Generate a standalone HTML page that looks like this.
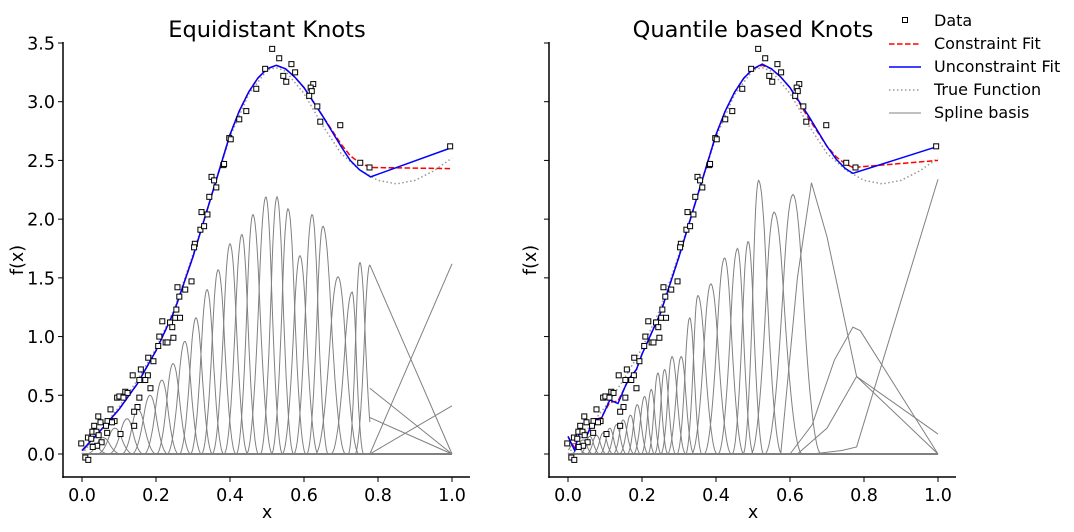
<!DOCTYPE html>
<html><head><meta charset="utf-8"><style>
body{margin:0;background:#fff}
svg text{font-family:"DejaVu Sans","Liberation Sans",sans-serif;fill:#000}
</style></head><body>
<svg id="c" width="1074" height="527" xmlns="http://www.w3.org/2000/svg"></svg>
<script>
const dataX=[0.514,0.533,0.495,0.566,0.576,0.544,0.552,0.625,0.618,0.621,0.614,0.636,0.644,0.698,0.471,0.444,0.425,0.398,0.402,0.382,0.384,0.752,0.777,0.995,0.350,0.357,0.363,0.344,0.323,0.339,0.320,0.330,0.305,0.303,0.296,0.279,0.258,0.263,0.255,0.252,0.265,0.217,0.238,0.244,0.209,0.247,0.206,0.226,0.231,0.179,0.193,0.137,0.159,0.178,0.155,0.171,0.185,0.117,0.123,0.095,0.101,0.112,0.155,0.077,0.150,0.044,0.141,0.050,0.069,0.088,0.081,0.033,0.065,0.141,0.028,0.039,0.068,0.104,0.016,0.025,0.045,0.053,-0.002,0.041,0.029,0.009,0.017];
const dataY=[3.45,3.37,3.28,3.32,3.25,3.22,3.17,3.15,3.12,3.09,3.05,2.96,2.83,2.80,3.11,2.92,2.85,2.69,2.68,2.46,2.47,2.48,2.44,2.62,2.36,2.33,2.27,2.19,2.06,2.04,1.91,1.94,1.79,1.76,1.47,1.40,1.42,1.34,1.23,1.16,1.16,1.13,1.12,1.08,1.00,0.99,0.92,0.95,0.95,0.82,0.79,0.67,0.72,0.67,0.63,0.63,0.56,0.53,0.52,0.48,0.49,0.48,0.48,0.38,0.40,0.32,0.36,0.27,0.28,0.28,0.27,0.24,0.24,0.24,0.19,0.19,0.18,0.17,0.14,0.13,0.16,0.10,0.09,0.07,0.06,-0.03,-0.05];
const trueX=[0,0.05,0.1,0.15,0.2,0.25,0.3,0.35,0.4,0.45,0.5,0.525,0.55,0.6,0.65,0.7,0.75,0.8,0.85,0.9,0.95,1.0];
const trueY=[0.0,0.2,0.4,0.63,0.9,1.24,1.7,2.2,2.7,3.06,3.27,3.29,3.26,3.07,2.80,2.56,2.42,2.33,2.30,2.33,2.41,2.52];
const fitX=[0,0.05,0.1,0.15,0.2,0.25,0.3,0.35,0.4,0.425,0.45,0.475,0.5,0.525,0.55,0.575,0.6,0.65,0.7,0.725,0.75,0.78,1.0];
const leftBlue=[0.03,0.2,0.38,0.6,0.88,1.22,1.68,2.2,2.72,2.92,3.08,3.2,3.28,3.31,3.28,3.21,3.12,2.88,2.62,2.50,2.42,2.36,2.61];
const leftRed=[0.03,0.2,0.38,0.6,0.88,1.22,1.68,2.2,2.72,2.92,3.08,3.2,3.28,3.31,3.28,3.21,3.12,2.88,2.64,2.54,2.48,2.44,2.43];
const rFitX=[0,0.018,0.031,0.05,0.072,0.09,0.113,0.135,0.162,0.185,0.2,0.25,0.3,0.35,0.4,0.425,0.45,0.475,0.5,0.525,0.55,0.575,0.6,0.65,0.7,0.725,0.75,0.77,1.0];
const rightBlue=[0.15,0.03,0.19,0.15,0.30,0.30,0.46,0.43,0.63,0.72,0.85,1.2,1.68,2.2,2.72,2.92,3.08,3.2,3.28,3.32,3.28,3.21,3.12,2.88,2.62,2.51,2.43,2.39,2.62];
const rightRed=[0.15,0.05,0.18,0.16,0.29,0.31,0.44,0.45,0.62,0.72,0.85,1.2,1.68,2.2,2.72,2.92,3.08,3.2,3.28,3.31,3.28,3.21,3.12,2.86,2.62,2.53,2.47,2.44,2.50];
const leftCenters=[0.027,0.057,0.089,0.122,0.151,0.184,0.216,0.246,0.278,0.308,0.338,0.368,0.400,0.432,0.462,0.497,0.527,0.557,0.589,0.622,0.651,0.692,0.730,0.751,0.778];
const leftAmps=[0.09,0.14,0.22,0.30,0.38,0.50,0.63,0.77,0.96,1.16,1.40,1.57,1.79,1.87,2.04,2.19,2.19,2.09,1.69,2.04,1.94,1.51,1.38,1.63,1.61];
const leftTailsX=[[0.778,1.0],[0.778,1.0],[0.778,1.0],[0.778,1.0],[0.778,1.0]];
const leftTailsY=[[1.61,0],[0.56,0],[0.31,0],[0,1.62],[0,0.41]];
const rightCenters=[0.018,0.041,0.059,0.077,0.095,0.113,0.131,0.149,0.169,0.187,0.207,0.225,0.243,0.261,0.281,0.306,0.329,0.351,0.386,0.423,0.458,0.487,0.515,0.557,0.608];
const rightAmps=[0.09,0.12,0.15,0.16,0.18,0.22,0.25,0.29,0.33,0.42,0.49,0.55,0.69,0.72,0.83,0.83,1.16,1.35,1.45,1.67,1.75,1.81,2.33,2.06,2.21];
const rightTailsX=[[0.575,0.62,0.658,0.70,0.78,1.0],[0.60,0.66,0.72,0.77,0.79,1.0],[0.66,0.74,0.78,1.0],[0.62,0.70,0.78,1.0]];
const rightTailsY=[[0,1.5,2.31,1.85,0.66,0],[0,0.25,0.8,1.08,1.05,0],[0,0.03,0.06,2.34],[0,0.22,0.66,0.17]];
const xTicks=[0,0.2,0.4,0.6,0.8,1.0];
const xTickLabels=["0.0","0.2","0.4","0.6","0.8","1.0"];
const yTicks=[0,0.5,1,1.5,2,2.5,3,3.5];
const yTickLabels=["0.0","0.5","1.0","1.5","2.0","2.5","3.0","3.5"];

const svg=document.getElementById('c');const NS="http://www.w3.org/2000/svg";
function mk(t,a,p){const e=document.createElementNS(NS,t);for(const k in a)e.setAttribute(k,a[k]);(p||svg).appendChild(e);return e;}
const yS=v=>454-117.43*v;
function bump(c,hl,hr,amp,x){const h=x<c?hl:hr;const t=Math.abs(x-c)/h;let b=0;if(t<0.5)b=0.75-t*t;else if(t<1.5)b=0.5*(1.5-t)*(1.5-t);return amp*b/0.75;}
function panel(ox,title,showY,centers,amps,tX,tY,fx,blue,red,cut){
  const xS=v=>ox+370*v;const L=ox-19,R=ox+388;
  const g=mk('g',{});
  
  
  for(let i=0;i<centers.length;i++){
    const c=centers[i];const hl=i>0?c-centers[i-1]:(centers[1]-centers[0]);const hr=i<centers.length-1?centers[i+1]-c:hl;
    const pts=[];const a=c-1.5*hl,b=Math.min(c+1.5*hr,cut);
    for(let k=0;k<=40;k++){const x=a+(b-a)*k/40;if(x<0)continue;pts.push(xS(x).toFixed(1)+','+yS(bump(c,hl,hr,amps[i],x)).toFixed(1));}
    const p=mk('polyline',{points:pts.join(' '),fill:'none',stroke:'#808080','stroke-width':1},g);
    
    
  }
  for(let i=0;i<tX.length;i++){
    const p=mk('polyline',{points:tX[i].map((x,k)=>xS(x)+','+yS(tY[i][k])).join(' '),fill:'none',stroke:'#808080','stroke-width':1},g);
    
    
  }
  const base=mk('line',{x1:xS(0),x2:xS(1),y1:yS(0),y2:yS(0),stroke:'#808080','stroke-width':2},g);
  
  
  const tr=mk('polyline',{points:trueX.map((x,k)=>xS(x)+','+yS(trueY[k])).join(' '),fill:'none',stroke:'#999','stroke-width':1.5,'stroke-dasharray':'1.5,2.5'},g);
  
  
  const rd=mk('polyline',{points:fx.map((x,k)=>xS(x)+','+yS(red[k])).join(' '),fill:'none',stroke:'#ff0000','stroke-width':1.5,'stroke-dasharray':'5.5,2.5'},g);
  
  
  const bl=mk('polyline',{points:fx.map((x,k)=>xS(x)+','+yS(blue[k])).join(' '),fill:'none',stroke:'#0000ff','stroke-width':1.5},g);
  
  
  for(let i=0;i<dataX.length;i++){
    const r=mk('rect',{x:xS(dataX[i])-2.5,y:yS(dataY[i])-2.5,width:5,height:5,fill:'#fff',stroke:'#000','stroke-width':1},g);
    
    
  }
  const sl=mk('line',{x1:L,x2:L,y1:42,y2:478,stroke:'#000','stroke-width':1.5},g);
  
  
  const sb=mk('line',{x1:L-0.7,x2:R,y1:477,y2:477,stroke:'#000','stroke-width':1.5},g);
  
  
  xTicks.forEach((t,i)=>{
    mk('line',{x1:xS(t),x2:xS(t),y1:477,y2:482,stroke:'#000','stroke-width':1},g);
    const tx=mk('text',{x:xS(t),y:501,'text-anchor':'middle','font-size':17.5},g);tx.textContent=xTickLabels[i];
    
    
  });
  yTicks.forEach((t,i)=>{
    mk('line',{x1:L-5,x2:L,y1:yS(t),y2:yS(t),stroke:'#000','stroke-width':1},g);
    if(showY){const tx=mk('text',{x:L-8,y:yS(t)+6.5,'text-anchor':'end','font-size':17.5},g);tx.textContent=yTickLabels[i];
    
    }
  });
  const xl=mk('text',{x:ox+185,y:518,'text-anchor':'middle','font-size':17.5},g);xl.textContent='x';
  
  
  const yl=mk('text',{x:0,y:0,'text-anchor':'middle','font-size':17.5,transform:`translate(${L-(showY?40:13)},260) rotate(-90)`},g);yl.textContent='f(x)';
  
  
  const ti=mk('text',{x:ox+185,y:37,'text-anchor':'middle','font-size':22.5},g);ti.textContent=title;
  
  
}
panel(82,'Equidistant Knots',true,leftCenters,leftAmps,leftTailsX,leftTailsY,fitX,leftBlue,leftRed,0.778);
panel(568,'Quantile based Knots',false,rightCenters,rightAmps,rightTailsX,rightTailsY,rFitX,rightBlue,rightRed,1.0);
const lg=mk('g',{});


const items=[['Data','sq'],['Constraint Fit','#ff0000','5.5,2.5'],['Unconstraint Fit','#0000ff',''],['True Function','#999','1.5,2.5'],['Spline basis','#808080','']];
items.forEach((it,i)=>{const y=20+i*23;
  if(it[1]==='sq')mk('rect',{x:902.5,y:y-2.5,width:5,height:5,fill:'#fff',stroke:'#000'},lg);
  else mk('line',{x1:889,x2:921,y1:y+1,y2:y+1,stroke:it[1],'stroke-width':i==4?1:1.5,'stroke-dasharray':it[2]},lg);
  const t=mk('text',{x:934,y:y+6,'font-size':16},lg);t.textContent=it[0];
  
  
});
</script>
</body></html>
